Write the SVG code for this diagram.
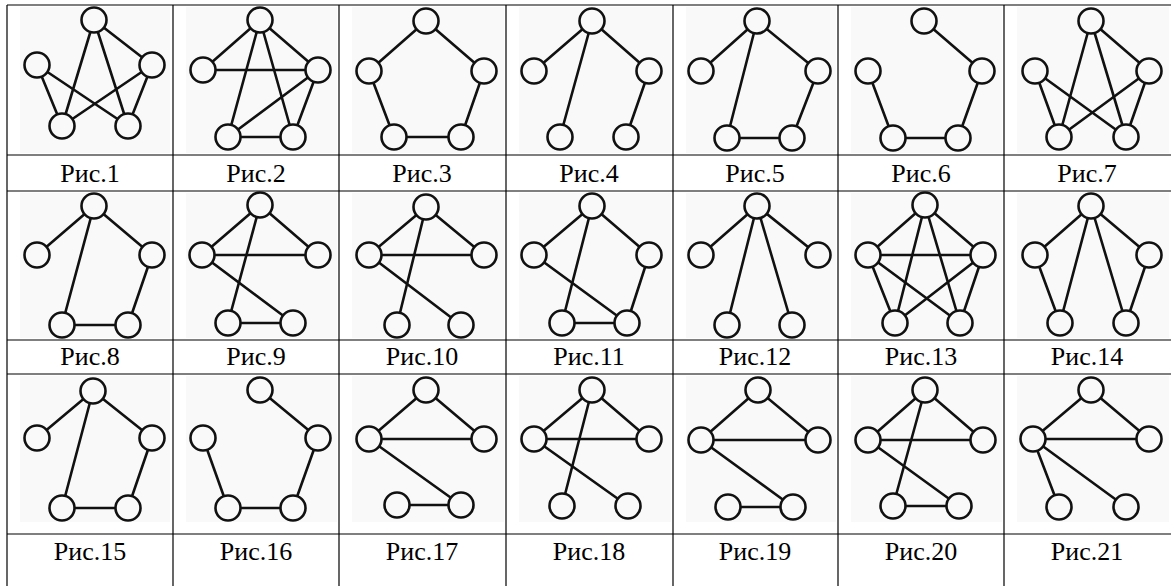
<svg xmlns="http://www.w3.org/2000/svg" width="1171" height="586" viewBox="0 0 1171 586">
<style>
.bg{fill:#f9f9f9}
.grid{stroke:#000;stroke-width:1.2;fill:none}
.e{stroke:#111;stroke-width:2.6;stroke-linecap:round}
.n{fill:#f9f9f9;stroke:#111;stroke-width:2.6}
.lbl{font-family:"Liberation Serif","Times New Roman",serif;font-size:26px;fill:#000;text-anchor:middle}
</style>
<rect width="1171" height="586" fill="#fff"/>
<g id="backgrounds">
<rect class="bg" x="20" y="7" width="150" height="146"/>
<rect class="bg" x="186" y="7" width="151" height="146"/>
<rect class="bg" x="352" y="7" width="152" height="146"/>
<rect class="bg" x="519" y="7" width="152" height="146"/>
<rect class="bg" x="686" y="7" width="150" height="146"/>
<rect class="bg" x="851" y="7" width="151" height="146"/>
<rect class="bg" x="1017" y="7" width="152" height="146"/>
<rect class="bg" x="20" y="193" width="150" height="145"/>
<rect class="bg" x="186" y="193" width="151" height="145"/>
<rect class="bg" x="352" y="193" width="152" height="145"/>
<rect class="bg" x="519" y="193" width="152" height="145"/>
<rect class="bg" x="686" y="193" width="150" height="145"/>
<rect class="bg" x="851" y="193" width="151" height="145"/>
<rect class="bg" x="1017" y="193" width="152" height="145"/>
<rect class="bg" x="20" y="376" width="150" height="146"/>
<rect class="bg" x="186" y="376" width="151" height="146"/>
<rect class="bg" x="352" y="376" width="152" height="146"/>
<rect class="bg" x="519" y="376" width="152" height="146"/>
<rect class="bg" x="686" y="376" width="150" height="146"/>
<rect class="bg" x="851" y="376" width="151" height="146"/>
<rect class="bg" x="1017" y="376" width="152" height="146"/>
</g>
<g id="table">
<line class="grid" x1="7" y1="5" x2="1171" y2="5"/>
<line class="grid" x1="7" y1="155" x2="1171" y2="155"/>
<line class="grid" x1="7" y1="191" x2="1171" y2="191"/>
<line class="grid" x1="7" y1="340" x2="1171" y2="340"/>
<line class="grid" x1="7" y1="374" x2="1171" y2="374"/>
<line class="grid" x1="7" y1="534" x2="1171" y2="534"/>
<line class="grid" x1="7" y1="5" x2="7" y2="586"/>
<line class="grid" x1="173" y1="5" x2="173" y2="586"/>
<line class="grid" x1="339" y1="5" x2="339" y2="586"/>
<line class="grid" x1="506" y1="5" x2="506" y2="586"/>
<line class="grid" x1="673" y1="5" x2="673" y2="586"/>
<line class="grid" x1="838" y1="5" x2="838" y2="586"/>
<line class="grid" x1="1004" y1="5" x2="1004" y2="586"/>
</g>
<g id="connectors">
<!-- F1 -->
<line class="e" x1="94" y1="20" x2="62" y2="126"/><line class="e" x1="94" y1="20" x2="128" y2="126"/><line class="e" x1="94" y1="20" x2="152" y2="65"/><line class="e" x1="37" y1="65" x2="62" y2="126"/><line class="e" x1="37" y1="65" x2="128" y2="126"/><line class="e" x1="152" y1="65" x2="62" y2="126"/><line class="e" x1="152" y1="65" x2="128" y2="126"/>
<!-- F2 -->
<line class="e" x1="260" y1="20" x2="203" y2="70"/><line class="e" x1="260" y1="20" x2="318" y2="70"/><line class="e" x1="260" y1="20" x2="228" y2="137"/><line class="e" x1="260" y1="20" x2="293" y2="137"/><line class="e" x1="203" y1="70" x2="318" y2="70"/><line class="e" x1="318" y1="70" x2="228" y2="137"/><line class="e" x1="318" y1="70" x2="293" y2="137"/><line class="e" x1="228" y1="137" x2="293" y2="137"/>
<!-- F3 -->
<line class="e" x1="426" y1="21" x2="369" y2="71"/><line class="e" x1="426" y1="21" x2="484" y2="71"/><line class="e" x1="369" y1="71" x2="394" y2="137"/><line class="e" x1="484" y1="71" x2="461" y2="137"/><line class="e" x1="394" y1="137" x2="461" y2="137"/>
<!-- F4 -->
<line class="e" x1="592" y1="21" x2="534" y2="71"/><line class="e" x1="592" y1="21" x2="649" y2="71"/><line class="e" x1="592" y1="21" x2="560" y2="137"/><line class="e" x1="649" y1="71" x2="626" y2="137"/>
<!-- F5 -->
<line class="e" x1="757" y1="21" x2="701" y2="71"/><line class="e" x1="757" y1="21" x2="818" y2="71"/><line class="e" x1="757" y1="21" x2="727" y2="138"/><line class="e" x1="818" y1="71" x2="792" y2="138"/><line class="e" x1="727" y1="138" x2="792" y2="138"/>
<!-- F6 -->
<line class="e" x1="924" y1="21" x2="982" y2="71"/><line class="e" x1="982" y1="71" x2="958" y2="138"/><line class="e" x1="893" y1="138" x2="958" y2="138"/><line class="e" x1="868" y1="71" x2="893" y2="138"/>
<!-- F7 -->
<line class="e" x1="1091" y1="21" x2="1059" y2="137"/><line class="e" x1="1091" y1="21" x2="1126" y2="137"/><line class="e" x1="1091" y1="21" x2="1149" y2="71"/><line class="e" x1="1035" y1="71" x2="1059" y2="137"/><line class="e" x1="1035" y1="71" x2="1126" y2="137"/><line class="e" x1="1149" y1="71" x2="1059" y2="137"/><line class="e" x1="1149" y1="71" x2="1126" y2="137"/>
<!-- F8 -->
<line class="e" x1="94" y1="206" x2="37" y2="255"/><line class="e" x1="94" y1="206" x2="152" y2="255"/><line class="e" x1="94" y1="206" x2="62" y2="325"/><line class="e" x1="152" y1="255" x2="128" y2="325"/><line class="e" x1="62" y1="325" x2="128" y2="325"/>
<!-- F9 -->
<line class="e" x1="260" y1="205" x2="202" y2="255"/><line class="e" x1="260" y1="205" x2="318" y2="255"/><line class="e" x1="260" y1="205" x2="228" y2="323"/><line class="e" x1="202" y1="255" x2="318" y2="255"/><line class="e" x1="202" y1="255" x2="293" y2="323"/><line class="e" x1="228" y1="323" x2="293" y2="323"/>
<!-- F10 -->
<line class="e" x1="426" y1="207" x2="369" y2="255"/><line class="e" x1="426" y1="207" x2="484" y2="255"/><line class="e" x1="426" y1="207" x2="397" y2="325"/><line class="e" x1="369" y1="255" x2="484" y2="255"/><line class="e" x1="369" y1="255" x2="461" y2="325"/>
<!-- F11 -->
<line class="e" x1="592" y1="206" x2="534" y2="255"/><line class="e" x1="592" y1="206" x2="649" y2="255"/><line class="e" x1="592" y1="206" x2="562" y2="323"/><line class="e" x1="534" y1="255" x2="627" y2="323"/><line class="e" x1="649" y1="255" x2="627" y2="323"/><line class="e" x1="562" y1="323" x2="627" y2="323"/>
<!-- F12 -->
<line class="e" x1="757" y1="206" x2="701" y2="255"/><line class="e" x1="757" y1="206" x2="818" y2="255"/><line class="e" x1="757" y1="206" x2="727" y2="325"/><line class="e" x1="757" y1="206" x2="792" y2="325"/>
<!-- F13 -->
<line class="e" x1="925" y1="205" x2="868" y2="255"/><line class="e" x1="925" y1="205" x2="983" y2="255"/><line class="e" x1="925" y1="205" x2="895" y2="323"/><line class="e" x1="925" y1="205" x2="960" y2="323"/><line class="e" x1="868" y1="255" x2="983" y2="255"/><line class="e" x1="868" y1="255" x2="895" y2="323"/><line class="e" x1="868" y1="255" x2="960" y2="323"/><line class="e" x1="983" y1="255" x2="895" y2="323"/><line class="e" x1="983" y1="255" x2="960" y2="323"/>
<!-- F14 -->
<line class="e" x1="1091" y1="206" x2="1035" y2="255"/><line class="e" x1="1091" y1="206" x2="1149" y2="255"/><line class="e" x1="1091" y1="206" x2="1060" y2="323"/><line class="e" x1="1091" y1="206" x2="1126" y2="323"/><line class="e" x1="1035" y1="255" x2="1060" y2="323"/><line class="e" x1="1149" y1="255" x2="1126" y2="323"/>
<!-- F15 -->
<line class="e" x1="93" y1="391" x2="37" y2="438"/><line class="e" x1="93" y1="391" x2="152" y2="438"/><line class="e" x1="93" y1="391" x2="62" y2="508"/><line class="e" x1="152" y1="438" x2="128" y2="508"/><line class="e" x1="62" y1="508" x2="128" y2="508"/>
<!-- F16 -->
<line class="e" x1="260" y1="390" x2="318" y2="438"/><line class="e" x1="318" y1="438" x2="293" y2="508"/><line class="e" x1="228" y1="508" x2="293" y2="508"/><line class="e" x1="203" y1="438" x2="228" y2="508"/>
<!-- F17 -->
<line class="e" x1="426" y1="390" x2="369" y2="439"/><line class="e" x1="426" y1="390" x2="484" y2="439"/><line class="e" x1="369" y1="439" x2="484" y2="439"/><line class="e" x1="369" y1="439" x2="461" y2="505"/><line class="e" x1="397" y1="505" x2="461" y2="505"/>
<!-- F18 -->
<line class="e" x1="592" y1="390" x2="534" y2="439"/><line class="e" x1="592" y1="390" x2="649" y2="439"/><line class="e" x1="592" y1="390" x2="562" y2="506"/><line class="e" x1="534" y1="439" x2="649" y2="439"/><line class="e" x1="534" y1="439" x2="628" y2="506"/>
<!-- F19 -->
<line class="e" x1="758" y1="390" x2="701" y2="440"/><line class="e" x1="758" y1="390" x2="818" y2="440"/><line class="e" x1="701" y1="440" x2="818" y2="440"/><line class="e" x1="701" y1="440" x2="793" y2="507"/><line class="e" x1="728" y1="507" x2="793" y2="507"/>
<!-- F20 -->
<line class="e" x1="925" y1="390" x2="868" y2="440"/><line class="e" x1="925" y1="390" x2="983" y2="440"/><line class="e" x1="925" y1="390" x2="893" y2="506"/><line class="e" x1="868" y1="440" x2="983" y2="440"/><line class="e" x1="868" y1="440" x2="959" y2="506"/><line class="e" x1="893" y1="506" x2="959" y2="506"/>
<!-- F21 -->
<line class="e" x1="1091" y1="390" x2="1033" y2="439"/><line class="e" x1="1091" y1="390" x2="1149" y2="439"/><line class="e" x1="1033" y1="439" x2="1149" y2="439"/><line class="e" x1="1033" y1="439" x2="1059" y2="507"/><line class="e" x1="1033" y1="439" x2="1126" y2="507"/>
</g>
<g id="nodes">
<g id="f1-t"><circle class="n" cx="94" cy="20" r="12.5"/></g><g id="f1-l"><circle class="n" cx="37" cy="65" r="12.5"/></g><g id="f1-r"><circle class="n" cx="152" cy="65" r="12.5"/></g><g id="f1-bl"><circle class="n" cx="62" cy="126" r="12.5"/></g><g id="f1-br"><circle class="n" cx="128" cy="126" r="12.5"/></g>
<g id="f2-t"><circle class="n" cx="260" cy="20" r="12.5"/></g><g id="f2-l"><circle class="n" cx="203" cy="70" r="12.5"/></g><g id="f2-r"><circle class="n" cx="318" cy="70" r="12.5"/></g><g id="f2-bl"><circle class="n" cx="228" cy="137" r="12.5"/></g><g id="f2-br"><circle class="n" cx="293" cy="137" r="12.5"/></g>
<g id="f3-t"><circle class="n" cx="426" cy="21" r="12.5"/></g><g id="f3-l"><circle class="n" cx="369" cy="71" r="12.5"/></g><g id="f3-r"><circle class="n" cx="484" cy="71" r="12.5"/></g><g id="f3-bl"><circle class="n" cx="394" cy="137" r="12.5"/></g><g id="f3-br"><circle class="n" cx="461" cy="137" r="12.5"/></g>
<g id="f4-t"><circle class="n" cx="592" cy="21" r="12.5"/></g><g id="f4-l"><circle class="n" cx="534" cy="71" r="12.5"/></g><g id="f4-r"><circle class="n" cx="649" cy="71" r="12.5"/></g><g id="f4-bl"><circle class="n" cx="560" cy="137" r="12.5"/></g><g id="f4-br"><circle class="n" cx="626" cy="137" r="12.5"/></g>
<g id="f5-t"><circle class="n" cx="757" cy="21" r="12.5"/></g><g id="f5-l"><circle class="n" cx="701" cy="71" r="12.5"/></g><g id="f5-r"><circle class="n" cx="818" cy="71" r="12.5"/></g><g id="f5-bl"><circle class="n" cx="727" cy="138" r="12.5"/></g><g id="f5-br"><circle class="n" cx="792" cy="138" r="12.5"/></g>
<g id="f6-t"><circle class="n" cx="924" cy="21" r="12.5"/></g><g id="f6-l"><circle class="n" cx="868" cy="71" r="12.5"/></g><g id="f6-r"><circle class="n" cx="982" cy="71" r="12.5"/></g><g id="f6-bl"><circle class="n" cx="893" cy="138" r="12.5"/></g><g id="f6-br"><circle class="n" cx="958" cy="138" r="12.5"/></g>
<g id="f7-t"><circle class="n" cx="1091" cy="21" r="12.5"/></g><g id="f7-l"><circle class="n" cx="1035" cy="71" r="12.5"/></g><g id="f7-r"><circle class="n" cx="1149" cy="71" r="12.5"/></g><g id="f7-bl"><circle class="n" cx="1059" cy="137" r="12.5"/></g><g id="f7-br"><circle class="n" cx="1126" cy="137" r="12.5"/></g>
<g id="f8-t"><circle class="n" cx="94" cy="206" r="12.5"/></g><g id="f8-l"><circle class="n" cx="37" cy="255" r="12.5"/></g><g id="f8-r"><circle class="n" cx="152" cy="255" r="12.5"/></g><g id="f8-bl"><circle class="n" cx="62" cy="325" r="12.5"/></g><g id="f8-br"><circle class="n" cx="128" cy="325" r="12.5"/></g>
<g id="f9-t"><circle class="n" cx="260" cy="205" r="12.5"/></g><g id="f9-l"><circle class="n" cx="202" cy="255" r="12.5"/></g><g id="f9-r"><circle class="n" cx="318" cy="255" r="12.5"/></g><g id="f9-bl"><circle class="n" cx="228" cy="323" r="12.5"/></g><g id="f9-br"><circle class="n" cx="293" cy="323" r="12.5"/></g>
<g id="f10-t"><circle class="n" cx="426" cy="207" r="12.5"/></g><g id="f10-l"><circle class="n" cx="369" cy="255" r="12.5"/></g><g id="f10-r"><circle class="n" cx="484" cy="255" r="12.5"/></g><g id="f10-bl"><circle class="n" cx="397" cy="325" r="12.5"/></g><g id="f10-br"><circle class="n" cx="461" cy="325" r="12.5"/></g>
<g id="f11-t"><circle class="n" cx="592" cy="206" r="12.5"/></g><g id="f11-l"><circle class="n" cx="534" cy="255" r="12.5"/></g><g id="f11-r"><circle class="n" cx="649" cy="255" r="12.5"/></g><g id="f11-bl"><circle class="n" cx="562" cy="323" r="12.5"/></g><g id="f11-br"><circle class="n" cx="627" cy="323" r="12.5"/></g>
<g id="f12-t"><circle class="n" cx="757" cy="206" r="12.5"/></g><g id="f12-l"><circle class="n" cx="701" cy="255" r="12.5"/></g><g id="f12-r"><circle class="n" cx="818" cy="255" r="12.5"/></g><g id="f12-bl"><circle class="n" cx="727" cy="325" r="12.5"/></g><g id="f12-br"><circle class="n" cx="792" cy="325" r="12.5"/></g>
<g id="f13-t"><circle class="n" cx="925" cy="205" r="12.5"/></g><g id="f13-l"><circle class="n" cx="868" cy="255" r="12.5"/></g><g id="f13-r"><circle class="n" cx="983" cy="255" r="12.5"/></g><g id="f13-bl"><circle class="n" cx="895" cy="323" r="12.5"/></g><g id="f13-br"><circle class="n" cx="960" cy="323" r="12.5"/></g>
<g id="f14-t"><circle class="n" cx="1091" cy="206" r="12.5"/></g><g id="f14-l"><circle class="n" cx="1035" cy="255" r="12.5"/></g><g id="f14-r"><circle class="n" cx="1149" cy="255" r="12.5"/></g><g id="f14-bl"><circle class="n" cx="1060" cy="323" r="12.5"/></g><g id="f14-br"><circle class="n" cx="1126" cy="323" r="12.5"/></g>
<g id="f15-t"><circle class="n" cx="93" cy="391" r="12.5"/></g><g id="f15-l"><circle class="n" cx="37" cy="438" r="12.5"/></g><g id="f15-r"><circle class="n" cx="152" cy="438" r="12.5"/></g><g id="f15-bl"><circle class="n" cx="62" cy="508" r="12.5"/></g><g id="f15-br"><circle class="n" cx="128" cy="508" r="12.5"/></g>
<g id="f16-t"><circle class="n" cx="260" cy="390" r="12.5"/></g><g id="f16-l"><circle class="n" cx="203" cy="438" r="12.5"/></g><g id="f16-r"><circle class="n" cx="318" cy="438" r="12.5"/></g><g id="f16-bl"><circle class="n" cx="228" cy="508" r="12.5"/></g><g id="f16-br"><circle class="n" cx="293" cy="508" r="12.5"/></g>
<g id="f17-t"><circle class="n" cx="426" cy="390" r="12.5"/></g><g id="f17-l"><circle class="n" cx="369" cy="439" r="12.5"/></g><g id="f17-r"><circle class="n" cx="484" cy="439" r="12.5"/></g><g id="f17-bl"><circle class="n" cx="397" cy="505" r="12.5"/></g><g id="f17-br"><circle class="n" cx="461" cy="505" r="12.5"/></g>
<g id="f18-t"><circle class="n" cx="592" cy="390" r="12.5"/></g><g id="f18-l"><circle class="n" cx="534" cy="439" r="12.5"/></g><g id="f18-r"><circle class="n" cx="649" cy="439" r="12.5"/></g><g id="f18-bl"><circle class="n" cx="562" cy="506" r="12.5"/></g><g id="f18-br"><circle class="n" cx="628" cy="506" r="12.5"/></g>
<g id="f19-t"><circle class="n" cx="758" cy="390" r="12.5"/></g><g id="f19-l"><circle class="n" cx="701" cy="440" r="12.5"/></g><g id="f19-r"><circle class="n" cx="818" cy="440" r="12.5"/></g><g id="f19-bl"><circle class="n" cx="728" cy="507" r="12.5"/></g><g id="f19-br"><circle class="n" cx="793" cy="507" r="12.5"/></g>
<g id="f20-t"><circle class="n" cx="925" cy="390" r="12.5"/></g><g id="f20-l"><circle class="n" cx="868" cy="440" r="12.5"/></g><g id="f20-r"><circle class="n" cx="983" cy="440" r="12.5"/></g><g id="f20-bl"><circle class="n" cx="893" cy="506" r="12.5"/></g><g id="f20-br"><circle class="n" cx="959" cy="506" r="12.5"/></g>
<g id="f21-t"><circle class="n" cx="1091" cy="390" r="12.5"/></g><g id="f21-l"><circle class="n" cx="1033" cy="439" r="12.5"/></g><g id="f21-r"><circle class="n" cx="1149" cy="439" r="12.5"/></g><g id="f21-bl"><circle class="n" cx="1059" cy="507" r="12.5"/></g><g id="f21-br"><circle class="n" cx="1126" cy="507" r="12.5"/></g>
</g>
<g id="labels">
<text class="lbl" x="90" y="182">Рис.1</text>
<text class="lbl" x="256" y="182">Рис.2</text>
<text class="lbl" x="422" y="182">Рис.3</text>
<text class="lbl" x="589" y="182">Рис.4</text>
<text class="lbl" x="755" y="182">Рис.5</text>
<text class="lbl" x="921" y="182">Рис.6</text>
<text class="lbl" x="1087" y="182">Рис.7</text>
<text class="lbl" x="90" y="365">Рис.8</text>
<text class="lbl" x="256" y="365">Рис.9</text>
<text class="lbl" x="422" y="365">Рис.10</text>
<text class="lbl" x="589" y="365">Рис.11</text>
<text class="lbl" x="755" y="365">Рис.12</text>
<text class="lbl" x="921" y="365">Рис.13</text>
<text class="lbl" x="1087" y="365">Рис.14</text>
<text class="lbl" x="90" y="560">Рис.15</text>
<text class="lbl" x="256" y="560">Рис.16</text>
<text class="lbl" x="422" y="560">Рис.17</text>
<text class="lbl" x="589" y="560">Рис.18</text>
<text class="lbl" x="755" y="560">Рис.19</text>
<text class="lbl" x="921" y="560">Рис.20</text>
<text class="lbl" x="1087" y="560">Рис.21</text>
</g>
</svg>
